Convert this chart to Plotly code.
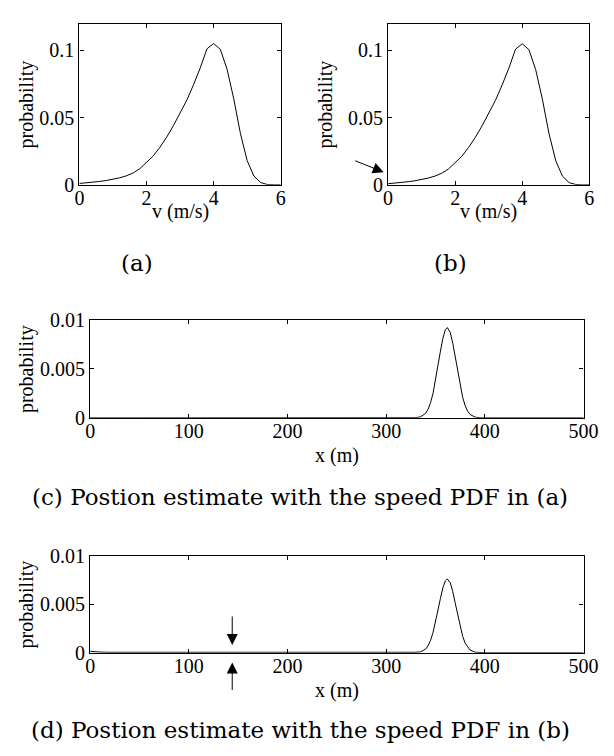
import plotly.graph_objects as go

# ---------------- data ----------------
v_a = [0.0, 0.2, 0.4, 0.6, 0.8, 1.0, 1.2, 1.4, 1.6, 1.8, 2.0, 2.2, 2.4, 2.6, 2.8, 3.0,
       3.2, 3.4, 3.6, 3.8, 4.0, 4.2, 4.4, 4.6, 4.8, 5.0, 5.2, 5.4, 5.6, 5.8, 6.0]
pdf_a = [0.0010, 0.0014, 0.0019, 0.0025, 0.0032, 0.0041, 0.0052, 0.0067, 0.0088, 0.0120,
         0.0170, 0.0215, 0.0280, 0.0355, 0.0440, 0.0530, 0.0630, 0.0745, 0.0870, 0.1012,
         0.1052, 0.1008, 0.0860, 0.0640, 0.0380, 0.0180, 0.0065, 0.0017, 0.0002, 0.0, 0.0]

v_b = [0.0, 0.2, 0.4, 0.6, 0.8, 1.0, 1.2, 1.4, 1.6, 1.8, 2.0, 2.2, 2.4, 2.6, 2.8, 3.0,
       3.2, 3.4, 3.6, 3.8, 4.0, 4.2, 4.4, 4.6, 4.8, 5.0, 5.2, 5.4, 5.6, 5.8, 6.0]
pdf_b = [0.0008, 0.0012, 0.0017, 0.0023, 0.0030, 0.0039, 0.0050, 0.0065, 0.0086, 0.0118,
         0.0168, 0.0213, 0.0278, 0.0353, 0.0438, 0.0528, 0.0628, 0.0743, 0.0868, 0.1010,
         0.1050, 0.1006, 0.0858, 0.0638, 0.0378, 0.0178, 0.0064, 0.0016, 0.0002, 0.0, 0.0]

x_c = [0, 320, 330, 335, 340, 342.5, 345, 347.5, 350, 352.5, 355, 357.5, 360, 362, 365,
       367.5, 370, 372.5, 375, 377.5, 380, 382.5, 385, 390, 395, 400, 500]
pdf_c = [0.0, 0.0, 0.00002, 0.0001, 0.00046, 0.00088, 0.00155, 0.0025, 0.0038, 0.0053,
         0.0068, 0.0081, 0.0090, 0.0092, 0.0087, 0.0076, 0.0062, 0.0047, 0.0032, 0.0021,
         0.00125, 0.00069, 0.00035, 0.00007, 0.00001, 0.0, 0.0]

x_d = [0, 2, 5, 10, 20, 100, 200, 300, 320, 330, 335, 340, 342.5, 345, 347.5, 350, 352.5,
       355, 357.5, 360, 362, 365, 367.5, 370, 372.5, 375, 377.5, 380, 382.5, 385, 390,
       395, 400, 500]
pdf_d = [0.00015, 0.00012, 0.0001, 0.00007, 0.00005, 0.00004, 0.00004, 0.00004, 0.00004,
         0.00005, 0.0001, 0.00038, 0.00073, 0.00128, 0.0021, 0.0031, 0.0044, 0.0056,
         0.0067, 0.0074, 0.0076, 0.0072, 0.0063, 0.0051, 0.0039, 0.0026, 0.0017, 0.0010,
         0.00057, 0.00029, 0.00006, 0.00001, 0.0, 0.0]

v_ticks = [0, 2, 4, 6]
v_ticktext = ["0", "2", "4", "6"]
pv_ticks = [0, 0.05, 0.1]
pv_ticktext = ["0", "0.05", "0.1"]
x_ticks = [0, 100, 200, 300, 400, 500]
x_ticktext = ["0", "100", "200", "300", "400", "500"]
px_ticks = [0, 0.005, 0.01]
px_ticktext = ["0", "0.005", "0.01"]

v_label = "v (m/s)"
x_label = "x (m)"
y_label = "probability"
captions = ["(a)", "(b)",
            "(c) Postion estimate with the speed PDF in (a)",
            "(d) Postion estimate with the speed PDF in (b)"]

# arrow targets, in data coordinates of the panel
arrow_b = (-0.13, 0.0094)
arrow_d_down = (144, 0.0008)
arrow_d_up = (144, -0.0010)

# ---------------- figure ----------------
W, H = 614, 756
FONT = "Liberation Serif, Times New Roman, Times, serif"
CAP_FONT = "DejaVu Serif, serif"
line = dict(color="black", width=1)

fig = go.Figure()
fig.add_trace(go.Scatter(x=v_a, y=pdf_a, mode="lines", line=line, xaxis="x", yaxis="y"))
fig.add_trace(go.Scatter(x=v_b, y=pdf_b, mode="lines", line=line, xaxis="x2", yaxis="y2"))
fig.add_trace(go.Scatter(x=x_c, y=pdf_c, mode="lines", line=line, xaxis="x3", yaxis="y3"))
fig.add_trace(go.Scatter(x=x_d, y=pdf_d, mode="lines", line=line, xaxis="x4", yaxis="y4"))


def px_x(a, b):
    return [a / W, b / W]


def px_y(top, bottom):
    return [1 - bottom / H, 1 - top / H]


common = dict(showline=True, linecolor="black", linewidth=1.3, mirror="ticks",
              ticks="inside", ticklen=4, tickwidth=1, tickcolor="black",
              showgrid=False, zeroline=False,
              tickfont=dict(family=FONT, size=20, color="black"))

panels = [
    ("xaxis", "yaxis", "x", "y", (77, 285), (13, 179), [0, 6], [0, 0.12], v_ticks, v_ticktext, pv_ticks, pv_ticktext, v_label, 27, 22),
    ("xaxis2", "yaxis2", "x2", "y2", (396, 604), (13, 179), [0, 6], [0, 0.12], v_ticks, v_ticktext, pv_ticks, pv_ticktext, v_label, 27, 331),
    ("xaxis3", "yaxis3", "x3", "y3", (88, 598), (318, 419), [0, 500], [0, 0.01], x_ticks, x_ticktext, px_ticks, px_ticktext, x_label, 38, 22),
    ("xaxis4", "yaxis4", "x4", "y4", (88, 598), (561, 661), [0, 500], [0, 0.01], x_ticks, x_ticktext, px_ticks, px_ticktext, x_label, 38, 22),
]

lay = dict(width=W, height=H, margin=dict(l=0, r=0, t=0, b=0),
           paper_bgcolor="white", plot_bgcolor="white", showlegend=False)
for xa, ya, xr, yr, xd, yd, xrng, yrng, xt, xtt, yt, ytt, xlab, xlab_off, ylab_x in panels:
    lay[xa] = dict(domain=px_x(*xd), anchor=yr, range=xrng, tickvals=xt, ticktext=xtt,
                   ticklabelstandoff=-5, **common)
    lay[ya] = dict(domain=px_y(*yd), anchor=xr, range=yrng, tickvals=yt, ticktext=ytt, **common)
fig.update_layout(**lay)

lab_font = dict(family=FONT, size=20, color="black")
for xa, ya, xr, yr, xd, yd, xrng, yrng, xt, xtt, yt, ytt, xlab, xlab_off, ylab_x in panels:
    fig.add_annotation(text=xlab, x=0.5, xref=xr + " domain", y=0, yref=yr + " domain",
                       yshift=-xlab_off, showarrow=False, font=lab_font,
                       xanchor="center", yanchor="middle")
    fig.add_annotation(text=y_label, x=ylab_x / W, xref="paper", y=0.5, yref=yr + " domain",
                       textangle=-90, showarrow=False, font=lab_font,
                       xanchor="center", yanchor="middle")

cap_font = dict(family=CAP_FONT, size=23, color="black")
cap_pos = [(136, 260), (461, 260), (305, 501), (305, 741)]
for txt, (cx, cy) in zip(captions, cap_pos):
    fig.add_annotation(text=txt, x=cx / W, y=1 - cy / H, xref="paper", yref="paper",
                       showarrow=False, font=cap_font, xanchor="center", yanchor="middle")

arrow_style = dict(text="", showarrow=True, arrowhead=2, arrowsize=2.2, arrowwidth=1,
                   arrowcolor="black")
fig.add_annotation(x=arrow_b[0] / 6, y=arrow_b[1] / 0.12, xref="x2 domain", yref="y2 domain",
                   ax=-30, ay=-12, **arrow_style)
fig.add_annotation(x=arrow_d_down[0] / 500, y=arrow_d_down[1] / 0.01, xref="x4 domain",
                   yref="y4 domain", ax=0, ay=-30, **arrow_style)
fig.add_annotation(x=arrow_d_up[0] / 500, y=arrow_d_up[1] / 0.01, xref="x4 domain",
                   yref="y4 domain", ax=0, ay=29, **arrow_style)

fig.write_html("out.html")
